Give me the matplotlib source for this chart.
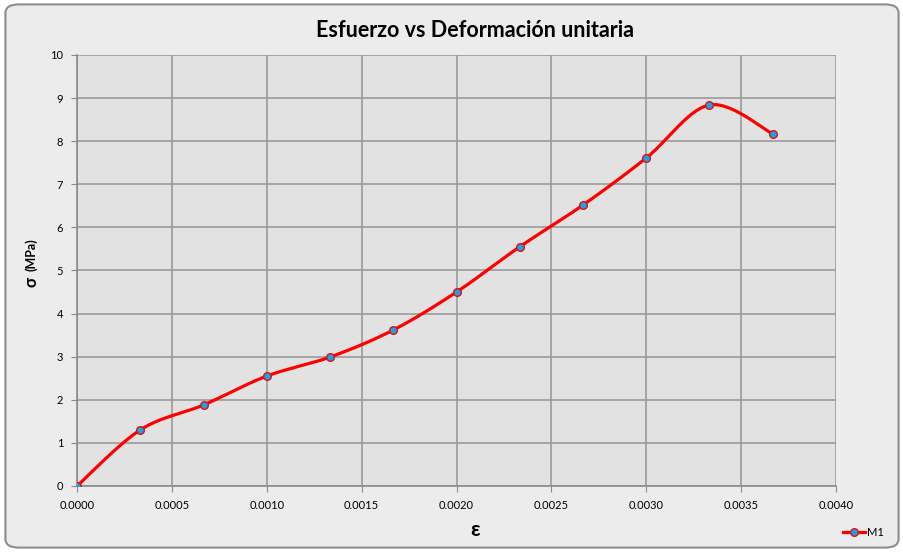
import matplotlib.pyplot as plt
import numpy as np
from matplotlib.patches import FancyBboxPatch
from matplotlib.lines import Line2D

strain = [0.0, 0.000333, 0.000667, 0.001, 0.001333, 0.001667,
          0.002, 0.002333, 0.002667, 0.003, 0.003333, 0.003667]
stress = [0.0, 1.30, 1.88, 2.55, 2.99, 3.62,
          4.50, 5.55, 6.52, 7.61, 8.84, 8.17]
x_ticks = [0.0, 0.0005, 0.001, 0.0015, 0.002, 0.0025, 0.003, 0.0035, 0.004]
y_ticks = list(range(0, 11))


def smooth_curve(xs, ys, n=40):
    # Excel-style smoothed line (Catmull-Rom through Bezier segments)
    p = np.column_stack([xs, ys]).astype(float)
    p_ext = np.vstack([p[0], p, p[-1]])
    out = []
    t = np.linspace(0, 1, n)[:, None]
    for i in range(1, len(p_ext) - 2):
        p0, p1, p2, p3 = p_ext[i - 1], p_ext[i], p_ext[i + 1], p_ext[i + 2]
        c1 = p1 + (p2 - p0) / 6.0
        c2 = p2 - (p3 - p1) / 6.0
        seg = ((1 - t) ** 3) * p1 + 3 * ((1 - t) ** 2) * t * c1 \
            + 3 * (1 - t) * t ** 2 * c2 + t ** 3 * p2
        out.append(seg)
    out = np.vstack(out)
    return out[:, 0], out[:, 1]


plt.rcParams['font.family'] = ['Lato', 'DejaVu Sans']

fig = plt.figure(figsize=(9.04, 5.52), dpi=100)
fig.patch.set_facecolor('white')
frame = FancyBboxPatch((0.006, 0.008), 0.988, 0.984,
                       boxstyle='round,pad=0,rounding_size=0.015',
                       transform=fig.transFigure, facecolor='#ececec',
                       edgecolor='#8c8c8c', linewidth=1.5, zorder=-10)
fig.patches.append(frame)

ax = fig.add_axes([0.0852, 0.1196, 0.8396, 0.7808])
ax.set_facecolor('#e2e2e2')

sx, sy = smooth_curve(strain, stress)
ax.plot(sx, sy, color='#ff0000', lw=2.3, zorder=3)
ax.plot(strain, stress, ls='none', marker='o', ms=5.5,
        markerfacecolor='#1ea0e6', markeredgecolor='#e01010',
        markeredgewidth=1.0, zorder=4)

ax.set_xlim(0, 0.004)
ax.set_ylim(0, 10)
ax.set_xticks(x_ticks)
ax.set_xticklabels([f'{v:.4f}' for v in x_ticks])
ax.set_yticks(y_ticks)
ax.grid(True, color='#9a9a9a', lw=1.2)
ax.set_axisbelow(True)
for side in ['top', 'right']:
    ax.spines[side].set_visible(False)
for side in ['left', 'bottom']:
    ax.spines[side].set_color('#8a8a8a')
    ax.spines[side].set_linewidth(1.2)
ax.tick_params(axis='both', labelsize=8, color='#8a8a8a', length=4, pad=6)

fig.text(0.525, 0.944, 'Esfuerzo vs Deformación unitaria', ha='center',
         va='center', fontsize=15.5, fontweight='bold')
fig.text(0.525, 0.04, 'ε', ha='center', va='center', fontsize=15,
         fontweight='bold')
fig.text(0.035, 0.489, 'σ', ha='center', va='center', rotation=90,
         fontsize=12, fontweight='bold')
fig.text(0.035, 0.538, '(MPa)', ha='center', va='center', rotation=90,
         fontsize=9, fontweight='bold')

handle = Line2D([], [], color='#ff0000', lw=2.3, marker='o', ms=5.5,
                markerfacecolor='#1ea0e6', markeredgecolor='#e01010')
fig.legend([handle], ['M1'], loc='center', bbox_to_anchor=(0.955, 0.036),
           frameon=False, fontsize=8, handlelength=2.0, handletextpad=0.2)

fig.savefig('out.png', dpi=100)
